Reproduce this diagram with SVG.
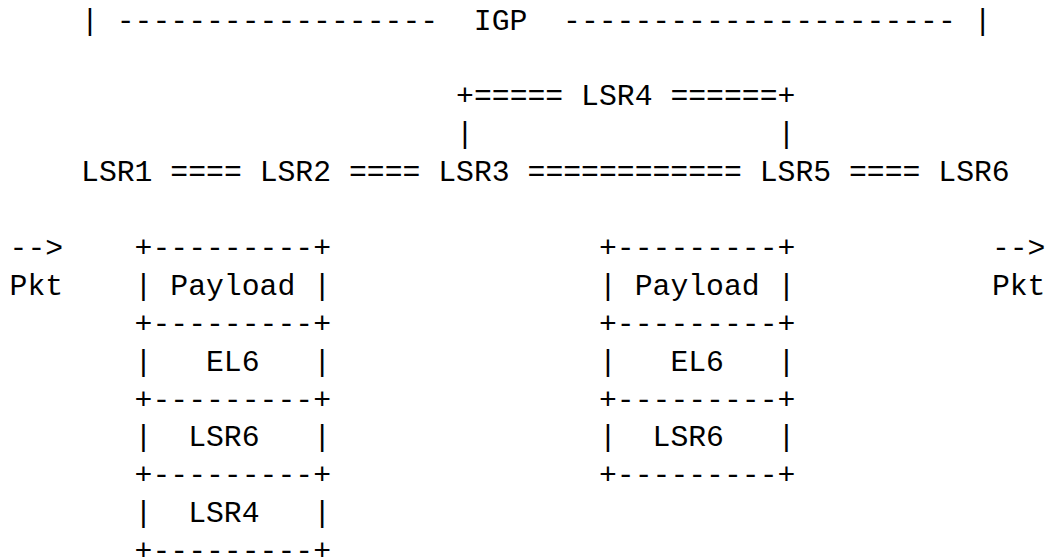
<svg xmlns="http://www.w3.org/2000/svg" width="1057" height="559" viewBox="0 0 1057 559" xml:space="preserve">
<style>
.t{font-family:"Liberation Mono","DejaVu Sans Mono",monospace;font-size:29.76px;fill:#000;white-space:pre}
</style>
<rect width="1057" height="559" fill="#fff"/>
<g id="igp-scope">
<text class="t" x="81.04" y="29.5">| ------------------  IGP  ---------------------- |</text>
</g>
<g id="connectors">
<text class="t" x="456.1" y="105.3">+=====</text>
<text class="t" x="670.42" y="105.3">======+</text>
<text class="t" x="456.1" y="143.2">|</text>
<text class="t" x="777.58" y="143.2">|</text>
<text class="t" x="170.34" y="181.1">====</text>
<text class="t" x="348.94" y="181.1">====</text>
<text class="t" x="527.54" y="181.1">============</text>
<text class="t" x="849.02" y="181.1">====</text>
</g>
<g id="lsr1"><text class="t" x="81.04" y="181.1">LSR1</text></g>
<g id="lsr2"><text class="t" x="259.64" y="181.1">LSR2</text></g>
<g id="lsr3"><text class="t" x="438.24" y="181.1">LSR3</text></g>
<g id="lsr4"><text class="t" x="581.12" y="105.3">LSR4</text></g>
<g id="lsr5"><text class="t" x="759.72" y="181.1">LSR5</text></g>
<g id="lsr6"><text class="t" x="938.32" y="181.1">LSR6</text></g>
<g id="pkt-in">
<text class="t" x="9.6" y="256.9">--&gt;</text>
<text class="t" x="9.6" y="294.8">Pkt</text>
</g>
<g id="stack-in">
<text class="t" x="134.62" y="256.9">+---------+</text>
<text class="t" x="134.62" y="294.8">| Payload |</text>
<text class="t" x="134.62" y="332.7">+---------+</text>
<text class="t" x="134.62" y="370.6">|   EL6   |</text>
<text class="t" x="134.62" y="408.5">+---------+</text>
<text class="t" x="134.62" y="446.4">|  LSR6   |</text>
<text class="t" x="134.62" y="484.3">+---------+</text>
<text class="t" x="134.62" y="522.2">|  LSR4   |</text>
<text class="t" x="134.62" y="560.1">+---------+</text>
</g>
<g id="stack-out">
<text class="t" x="598.98" y="256.9">+---------+</text>
<text class="t" x="598.98" y="294.8">| Payload |</text>
<text class="t" x="598.98" y="332.7">+---------+</text>
<text class="t" x="598.98" y="370.6">|   EL6   |</text>
<text class="t" x="598.98" y="408.5">+---------+</text>
<text class="t" x="598.98" y="446.4">|  LSR6   |</text>
<text class="t" x="598.98" y="484.3">+---------+</text>
</g>
<g id="pkt-out">
<text class="t" x="991.9" y="256.9">--&gt;</text>
<text class="t" x="991.9" y="294.8">Pkt</text>
</g>
</svg>
